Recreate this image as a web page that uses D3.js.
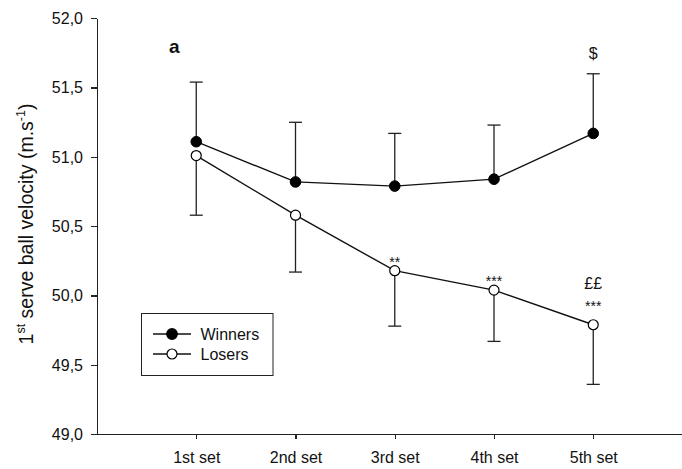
<!DOCTYPE html>
<meta charset="utf-8">
<style>
body { margin: 0; background: #fff; }
svg { font-family: "Liberation Sans", Arial, sans-serif; }
.axis path, .axis line { fill: none; stroke: #222; stroke-width: 1.3px; shape-rendering: crispEdges; }
.axis text { font-size: 16px; fill: #111; }
</style>
<body>
<script src="https://d3js.org/d3.v7.min.js"></script>
<script>
// values (m.s-1)
var sets = ["1st set", "2nd set", "3rd set", "4th set", "5th set"];
var winners = [51.11, 50.82, 50.79, 50.84, 51.17];
var winnersSE = [0.43, 0.43, 0.38, 0.39, 0.43];
var losers = [51.01, 50.58, 50.18, 50.04, 49.79];
var losersSE = [0.43, 0.41, 0.40, 0.37, 0.43];
var yTicks = [49.0, 49.5, 50.0, 50.5, 51.0, 51.5, 52.0];
var winnersSig = ["", "", "", "", "$"];
var losersSig = ["", "", "**", "***", "***"];
var losersSig2 = ["", "", "", "", "££"];

var width = 682, height = 469;

var svg = d3.select("body").append("svg")
    .attr("width", width)
    .attr("height", height);

var x = d3.scaleLinear().domain([0, 6]).range([97, 692.5]);
var y = d3.scaleLinear().domain([49, 52]).range([434.3, 18.3]);

var fmt = function(d) { return d3.format(".1f")(d).replace(".", ","); };

svg.append("g")
    .attr("class", "axis")
    .attr("transform", "translate(0," + y(49) + ")")
    .call(d3.axisBottom(x).tickValues([1, 2, 3, 4, 5]).tickSize(5).tickSizeOuter(0).tickPadding(12)
      .tickFormat(function(d) { return sets[d - 1]; }));

svg.append("g")
    .attr("class", "axis")
    .attr("transform", "translate(" + x(0) + ",0)")
    .call(d3.axisLeft(y).tickValues(yTicks).tickSize(6).tickSizeOuter(0).tickPadding(8).tickFormat(fmt));

// y label
var yl = svg.append("text")
    .attr("transform", "translate(33,224) rotate(-90)")
    .attr("text-anchor", "middle")
    .style("font-size", "19.5px")
    .style("fill", "#111");
yl.append("tspan").text("1");
yl.append("tspan").attr("dy", -8).style("font-size", "12.5px").text("st");
yl.append("tspan").attr("dy", 8).text(" serve ball velocity (m.s");
yl.append("tspan").attr("dy", -8).style("font-size", "12.5px").text("-1");
yl.append("tspan").attr("dy", 8).text(")");

svg.append("text")
    .attr("x", 169).attr("y", 53)
    .style("font-size", "19px").style("font-weight", "bold").style("fill", "#111")
    .text("a");

function px(i) { return x(i + 1); }

// error bars: winners up, losers down
function errBars(vals, se, dir) {
  var g = svg.append("g").attr("stroke", "#222").attr("stroke-width", 1.3);
  vals.forEach(function(v, i) {
    var end = v + dir * se[i];
    g.append("line").attr("x1", px(i)).attr("x2", px(i)).attr("y1", y(v)).attr("y2", y(end));
    g.append("line").attr("x1", px(i) - 6.5).attr("x2", px(i) + 6.5).attr("y1", y(end)).attr("y2", y(end));
  });
}
errBars(winners, winnersSE, 1);
errBars(losers, losersSE, -1);

var line = d3.line().x(function(d, i) { return px(i); }).y(function(d) { return y(d); });

svg.append("path").datum(winners).attr("d", line)
    .attr("fill", "none").attr("stroke", "#111").attr("stroke-width", 1.4);
svg.append("path").datum(losers).attr("d", line)
    .attr("fill", "none").attr("stroke", "#111").attr("stroke-width", 1.4);

svg.selectAll(".win").data(winners).enter().append("circle")
    .attr("cx", function(d, i) { return px(i); })
    .attr("cy", function(d) { return y(d); })
    .attr("r", 5.3).attr("fill", "#000").attr("stroke", "#000");
svg.selectAll(".los").data(losers).enter().append("circle")
    .attr("cx", function(d, i) { return px(i); })
    .attr("cy", function(d) { return y(d); })
    .attr("r", 5).attr("fill", "#fff").attr("stroke", "#000").attr("stroke-width", 1.2);

// significance marks
svg.selectAll(".sw").data(winnersSig).enter().append("text")
    .attr("x", function(d, i) { return px(i); })
    .attr("y", function(d, i) { return y(winners[i] + winnersSE[i]) - 15; })
    .attr("text-anchor", "middle").style("font-size", "16px").style("fill", "#111")
    .text(function(d) { return d; });
svg.selectAll(".sl").data(losersSig).enter().append("text")
    .attr("x", function(d, i) { return px(i); })
    .attr("y", function(d, i) { return y(losers[i]) - (losersSig2[i] ? 14 : 4); })
    .attr("text-anchor", "middle").style("font-size", "14px").style("fill", "#111")
    .text(function(d) { return d; });
svg.selectAll(".sl2").data(losersSig2).enter().append("text")
    .attr("x", function(d, i) { return px(i); })
    .attr("y", function(d, i) { return y(losers[i]) - 36; })
    .attr("text-anchor", "middle").style("font-size", "16px").style("fill", "#111")
    .text(function(d) { return d; });

// legend
var lg = svg.append("g").attr("transform", "translate(141.5,313.5)");
lg.append("rect").attr("width", 131.5).attr("height", 62)
    .attr("fill", "#fff").attr("stroke", "#222").attr("stroke-width", 1);
[{name: "Winners", fill: "#000", r: 5.3}, {name: "Losers", fill: "#fff", r: 5}].forEach(function(s, i) {
  var yy = 20.5 + i * 20;
  lg.append("line").attr("x1", 11.5).attr("x2", 49.5).attr("y1", yy).attr("y2", yy)
      .attr("stroke", "#111").attr("stroke-width", 1.4);
  lg.append("circle").attr("cx", 30.5).attr("cy", yy).attr("r", s.r)
      .attr("fill", s.fill).attr("stroke", "#000").attr("stroke-width", 1.2);
  lg.append("text").attr("x", 59).attr("y", yy + 5.5)
      .style("font-size", "16px").style("fill", "#111").text(s.name);
});
</script>
